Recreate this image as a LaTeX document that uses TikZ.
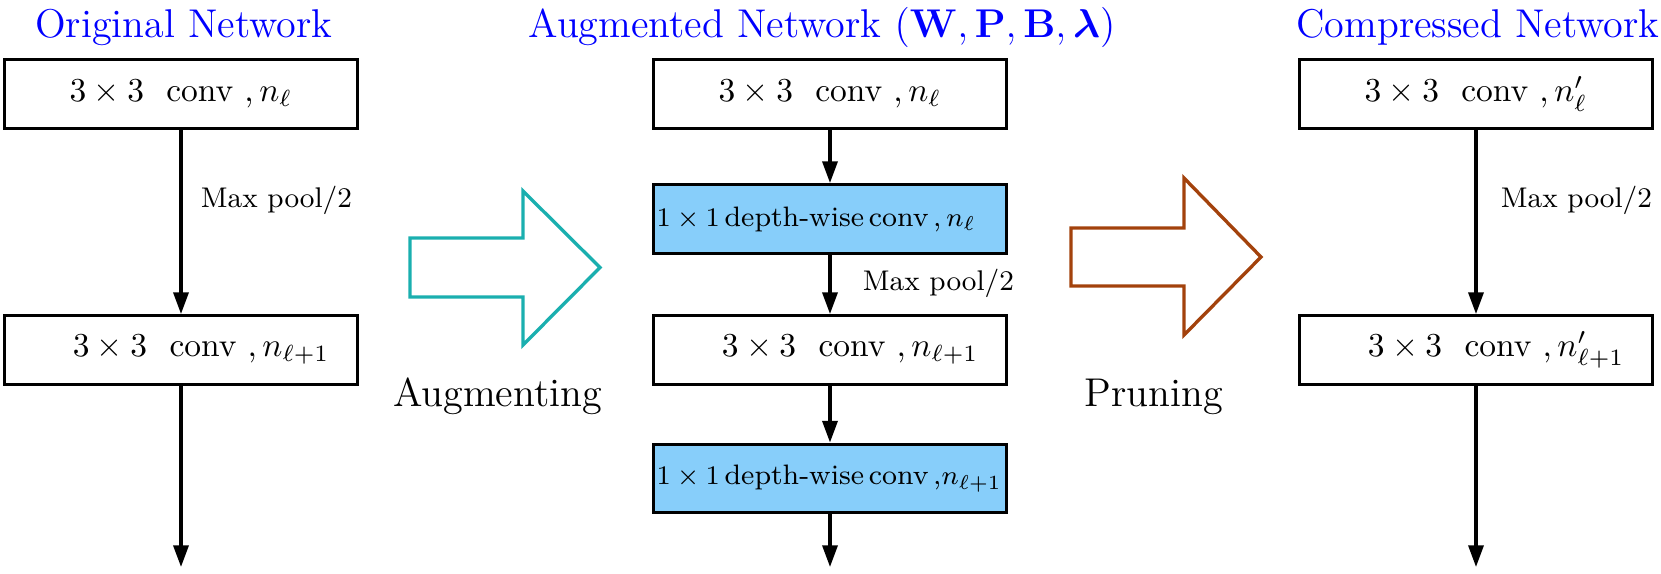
\documentclass[tikz,border=0pt]{standalone}
\usepackage{amsmath,amssymb,bm}
\usepackage{xcolor}
\usepackage{tikz}
\usetikzlibrary{arrows.meta}
\definecolor{netTitle}{HTML}{0000FF}
\definecolor{netFill}{HTML}{87CEFA}
\definecolor{netTeal}{HTML}{1AAFAF}
\definecolor{netRust}{HTML}{A3420C}
\tikzset{
  net diagram/.style={x=1.05cm, y=1.05cm, line join=miter},
  net box/.style={draw=black, fill=white, line width=1pt,
    minimum width=3.70cm, minimum height=0.72cm, inner sep=2pt},
  net dw box/.style={net box, fill=netFill, font=\fontsize{8.4}{10}\selectfont,
    inner xsep=0.8pt, text width=3.64cm, align=left},
  net arrow/.style={-{Triangle[length=6.5pt,width=4.5pt]}, line width=1pt},
  net note/.style={font=\fontsize{8.5}{10}\selectfont, anchor=west},
  net title/.style={font=\large, text=netTitle, anchor=base},
  net step/.style={font=\large, anchor=base},
  net block/.style={line width=1pt}
}

\begin{document}
\begin{tikzpicture}[net diagram]
\useasboundingbox (0,0) rectangle (16.61,-5.73);
% original network
\node[net title] (tOrig) at (1.84,-0.37) {Original Network};
\node[net box] (o1) at (1.81,-0.94) {$3\times 3$~~conv~,\,$n_{\ell}$};
\node[net box] (o2) at (1.81,-3.50) {\hspace*{12pt}$3\times 3$~~conv~,\,$n_{\ell+1}$};
\coordinate (oEnd) at (1.81,-5.67);
\draw[net arrow] (o1) -- (o2);
\draw[net arrow] (o2) -- (oEnd);
\node[net note] (oPool) at (1.89,-2.00) {Max pool/2};
% augmented network
\node[net title] (tAug) at (8.22,-0.37) {Augmented Network $(\mathbf{W},\mathbf{P},\mathbf{B},\boldsymbol{\lambda})$};
\node[net box] (m1) at (8.30,-0.94) {$3\times 3$~~conv~,\,$n_{\ell}$};
\node[net dw box] (m2) at (8.30,-2.19) {\mbox{$1\times 1\,$depth-wise\,conv\,,$\,n_{\ell}$}};
\node[net box] (m3) at (8.30,-3.50) {\hspace*{12pt}$3\times 3$~~conv~,\,$n_{\ell+1}$};
\node[net dw box] (m4) at (8.30,-4.785) {\mbox{$1\times 1\,$depth-wise\,conv\,,$n_{\ell+1}$}};
\coordinate (mEnd) at (8.30,-5.67);
\draw[net arrow] (m1) -- (m2);
\draw[net arrow] (m2) -- (m3);
\draw[net arrow] (m3) -- (m4);
\draw[net arrow] (m4) -- (mEnd);
\node[net note] (mPool) at (8.51,-2.83) {Max pool/2};
% compressed network
\node[net title] (tComp) at (14.78,-0.37) {Compressed Network};
\node[net box] (c1) at (14.76,-0.94) {$3\times 3$~~conv~,\,$n'_{\ell}$};
\node[net box] (c2) at (14.76,-3.50) {\hspace*{12pt}$3\times 3$~~conv~,\,$n'_{\ell+1}$};
\coordinate (cEnd) at (14.76,-5.67);
\draw[net arrow] (c1) -- (c2);
\draw[net arrow] (c2) -- (cEnd);
\node[net note] (cPool) at (14.89,-2.00) {Max pool/2};
% block arrows
\draw[net block, draw=netTeal] (4.10,-2.38) -- (5.23,-2.38) -- (5.23,-1.91)
  -- (6.00,-2.675) -- (5.23,-3.45) -- (5.23,-2.97) -- (4.10,-2.97) -- cycle;
\node[net step] (sAug) at (4.975,-4.06) {Augmenting};
\draw[net block, draw=netRust] (10.71,-2.28) -- (11.84,-2.28) -- (11.84,-1.78)
  -- (12.61,-2.57) -- (11.84,-3.35) -- (11.84,-2.86) -- (10.71,-2.86) -- cycle;
\node[net step] (sPrune) at (11.54,-4.06) {Pruning};
\end{tikzpicture}
\end{document}
